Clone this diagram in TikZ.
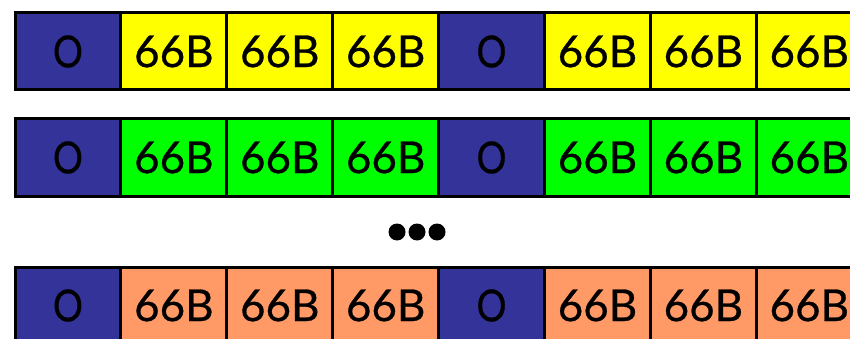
\documentclass[tikz,border=0pt]{standalone}
\usepackage{fontspec}
\usepackage{graphicx}
\setmainfont{Lato}[FakeBold=0.6]
\definecolor{oblue}{HTML}{333399}
\definecolor{cyel}{HTML}{FFFF00}
\definecolor{cgrn}{HTML}{00FF00}
\definecolor{corg}{HTML}{FF9966}
\tikzset{
  cell/.style={draw=black, line width=3pt, minimum width=105.9pt, minimum height=77pt,
    inner sep=0pt, outer sep=0pt, font=\fontsize{44}{44}\selectfont, anchor=north west},
  ocell/.style={cell, fill=oblue},
  dotc/.style={circle, fill=black, minimum size=17pt, inner sep=0pt}
}
\begin{document}
\begin{tikzpicture}[x=1pt,y=-1pt]
\clip (0,0) rectangle (850,339);
\fill[white] (0,0) rectangle (850,339);
\foreach \r/\ty/\col in {1/13/cyel, 2/119/cgrn, 3/267/corg}{
  \foreach \i in {0,...,7}{
    \pgfmathsetmacro{\xx}{15+105.9*\i}
    \ifnum\i=0
      \node[ocell] (r\r c\i) at (\xx,\ty) {\scalebox{0.85}[1]{O}};
    \else\ifnum\i=4
      \node[ocell] (r\r c\i) at (\xx,\ty) {\scalebox{0.85}[1]{O}};
    \else
      \node[cell, fill=\col] (r\r c\i) at (\xx,\ty) {66B};
    \fi\fi
  }
}
\node[dotc] (d1) at (397,232) {};
\node[dotc] (d2) at (417,232) {};
\node[dotc] (d3) at (437,232) {};
\end{tikzpicture}
\end{document}
